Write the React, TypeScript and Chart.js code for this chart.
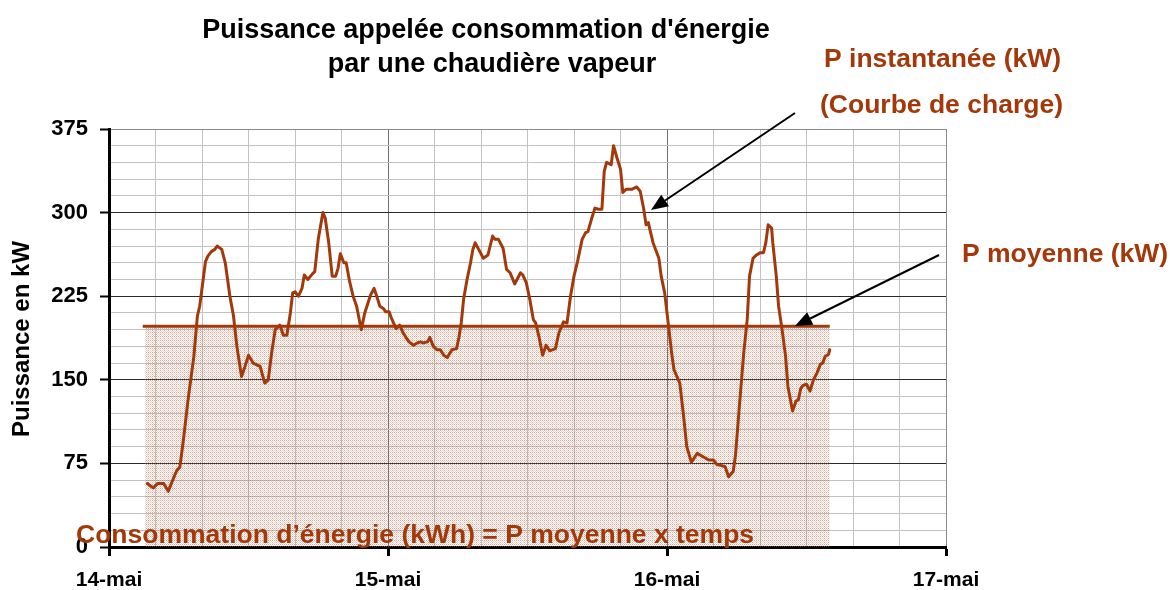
import React, { useEffect, useRef } from 'react';
import { Chart, registerables } from 'chart.js';

Chart.register(...registerables);

// ---- Data ----
const DATE_LABELS = ['14-mai', '15-mai', '16-mai', '17-mai'];
const TITLE_LINES = ["Puissance appelée consommation d'énergie", 'par une chaudière vapeur'];
const Y_TITLE = 'Puissance en kW';
const ANNOT_INST = ['P instantanée (kW)', '(Courbe de charge)'];
const ANNOT_MOY = 'P moyenne (kW)';
const CONSO_TEXT = 'Consommation d’énergie (kWh) = P moyenne x temps';

// time in hours from 14-mai 00:00
const HOURS = [
  3.3, 3.8, 4.2, 4.7, 5.1, 5.4, 5.8, 6.1, 6.4, 6.8,
  7.3, 7.6, 7.8, 8.1, 8.3, 8.5, 8.8, 9.1, 9.3, 9.7,
  10.0, 10.4, 10.7, 11.0, 11.4, 11.7, 12.0, 12.4, 13.0, 13.4,
  13.7, 14.0, 14.3, 14.7, 15.0, 15.3, 15.6, 15.8, 16.0, 16.3,
  16.6, 16.8, 17.1, 17.5, 17.7, 18.0, 18.4, 18.6, 18.9, 19.2,
  19.5, 19.7, 19.9, 20.2, 20.4, 20.7, 21.0, 21.3, 21.7, 22.0,
  22.5, 22.8, 23.0, 23.3, 23.6, 23.8, 24.1, 24.3, 24.7, 25.0,
  25.3, 25.8, 26.2, 26.5, 26.8, 27.0, 27.4, 27.6, 27.9, 28.2,
  28.5, 28.8, 29.1, 29.5, 29.9, 30.1, 30.3, 30.5, 30.8, 31.1,
  31.3, 31.5, 31.8, 32.2, 32.6, 33.0, 33.2, 33.5, 33.9, 34.2,
  34.5, 34.9, 35.1, 35.4, 35.6, 35.9, 36.2, 36.5, 36.7, 37.0,
  37.3, 37.6, 37.9, 38.4, 38.7, 39.1, 39.4, 39.7, 40.0, 40.3,
  40.7, 41.0, 41.2, 41.5, 41.8, 42.1, 42.4, 42.6, 42.8, 43.2,
  43.4, 43.7, 44.0, 44.2, 44.5, 45.0, 45.4, 45.7, 46.0, 46.2,
  46.4, 46.5, 46.8, 47.3, 47.5, 47.8, 48.1, 48.4, 48.6, 49.1,
  49.4, 49.7, 50.1, 50.6, 51.1, 51.6, 52.0, 52.3, 52.7, 53.0,
  53.3, 53.7, 53.9, 54.2, 54.6, 54.9, 55.1, 55.4, 55.7, 56.0,
  56.3, 56.5, 56.7, 57.0, 57.1, 57.4, 57.6, 57.9, 58.2, 58.4,
  58.8, 59.1, 59.3, 59.5, 59.7, 60.0, 60.3, 60.6, 60.9, 61.2,
  61.4, 61.6, 61.9, 62.0,
];

const POWER_KW = [
  57, 53, 57, 57, 50, 58, 68, 72, 96, 132,
  171, 207, 216, 240, 256, 261, 265, 267, 270, 267,
  255, 225, 208, 180, 153, 162, 172, 165, 162, 147,
  150, 175, 195, 199, 190, 190, 210, 228, 229, 225,
  232, 244, 240, 245, 247, 276, 300, 295, 273, 243,
  243, 250, 263, 255, 255, 238, 225, 216, 195, 210,
  226, 232, 226, 216, 214, 211, 211, 205, 196, 199,
  192, 184, 181, 183, 184, 183, 184, 188, 180, 177,
  177, 172, 170, 177, 178, 188, 201, 222, 240, 255,
  267, 273, 267, 259, 262, 279, 276, 276, 268, 249,
  246, 236, 240, 246, 244, 237, 222, 204, 201, 188,
  172, 181, 176, 178, 192, 202, 201, 225, 243, 256,
  276, 282, 283, 294, 304, 303, 303, 337, 345, 343,
  360, 349, 339, 318, 321, 321, 323, 319, 303, 289,
  291, 286, 273, 259, 243, 228, 201, 174, 159, 147,
  120, 90, 76, 84, 81, 78, 78, 74, 73, 72,
  63, 68, 83, 123, 174, 204, 243, 259, 262, 264,
  264, 273, 289, 286, 273, 243, 216, 195, 171, 144,
  122, 131, 132, 142, 145, 146, 140, 150, 156, 164,
  165, 171, 173, 177,
];

const P_MOYENNE = 198;
const MEAN_RANGE_H = [2.9, 62.0];
const FILL_RANGE_H = [3.1, 62.0];
const X_MAX_H = 72;
const Y_MAX = 375;

const FONT = '"Liberation Sans", Arial, Helvetica, sans-serif';
const BROWN = '#A3390B';

function makePattern(): CanvasPattern | string {
  const pc = document.createElement('canvas');
  pc.width = 4;
  pc.height = 4;
  const g = pc.getContext('2d');
  if (!g) return 'rgba(220,140,110,0.3)';
  for (let yy = 0; yy < 4; yy++) {
    for (let xx = 0; xx < 4; xx++) {
      if ((xx + yy) % 2 === 0) {
        g.fillStyle = (xx % 4 === 0 || yy % 4 === 0) ? 'rgba(200,95,60,0.55)' : 'rgba(215,130,100,0.35)';
        g.fillRect(xx, yy, 1, 1);
      }
    }
  }
  const p = g.createPattern(pc, 'repeat');
  return p || 'rgba(220,140,110,0.3)';
}

function drawArrow(ctx: CanvasRenderingContext2D, x1: number, y1: number, x2: number, y2: number) {
  const dx = x2 - x1;
  const dy = y2 - y1;
  const len = Math.sqrt(dx * dx + dy * dy);
  const ux = dx / len;
  const uy = dy / len;
  const headLen = 17;
  const headHalf = 7;
  const bx = x2 - ux * headLen;
  const by = y2 - uy * headLen;
  ctx.strokeStyle = '#000';
  ctx.lineWidth = 2;
  ctx.beginPath();
  ctx.moveTo(x1, y1);
  ctx.lineTo(bx, by);
  ctx.stroke();
  ctx.fillStyle = '#000';
  ctx.beginPath();
  ctx.moveTo(x2, y2);
  ctx.lineTo(bx - uy * headHalf, by + ux * headHalf);
  ctx.lineTo(bx + uy * headHalf, by - ux * headHalf);
  ctx.closePath();
  ctx.fill();
}

const overlayPlugin = {
  id: 'overlay',
  afterDraw(chart: any) {
    const ctx: CanvasRenderingContext2D = chart.ctx;
    ctx.save();
    // Title
    ctx.fillStyle = '#000';
    ctx.font = `bold 27px ${FONT}`;
    ctx.textAlign = 'center';
    ctx.textBaseline = 'alphabetic';
    ctx.fillText(TITLE_LINES[0], 486, 38);
    ctx.fillText(TITLE_LINES[1], 492, 72);

    // Y title
    ctx.save();
    ctx.translate(22, 339);
    ctx.rotate(-Math.PI / 2);
    ctx.font = `bold 24px ${FONT}`;
    ctx.textAlign = 'center';
    ctx.textBaseline = 'middle';
    ctx.fillText(Y_TITLE, 0, 0);
    ctx.restore();

    // Annotations
    ctx.fillStyle = BROWN;
    ctx.font = `bold 26.5px ${FONT}`;
    ctx.textAlign = 'left';
    ctx.textBaseline = 'alphabetic';
    ctx.fillText(ANNOT_INST[0], 824, 67);
    ctx.fillText(ANNOT_INST[1], 820, 113);
    ctx.fillText(ANNOT_MOY, 962, 262);
    ctx.fillText(CONSO_TEXT, 76, 543);

    drawArrow(ctx, 795, 113, 651, 210);
    drawArrow(ctx, 939, 255, 795, 326);
    ctx.restore();
  },
};

export default function App() {
  const canvasRef = useRef<HTMLCanvasElement | null>(null);

  useEffect(() => {
    const canvas = canvasRef.current;
    if (!canvas) return;
    const pattern = makePattern();

    const curve = HOURS.map((h, i) => ({ x: h, y: POWER_KW[i] }));
    const meanLine = MEAN_RANGE_H.map((h) => ({ x: h, y: P_MOYENNE }));
    const fillArea = FILL_RANGE_H.map((h) => ({ x: h, y: P_MOYENNE }));

    const chart = new Chart(canvas, {
      type: 'line',
      data: {
        datasets: [
          {
            label: 'P moyenne',
            data: meanLine,
            borderColor: BROWN,
            borderWidth: 3,
            pointRadius: 0,
            fill: false,
          },
          {
            label: 'P instantanée',
            data: curve,
            borderColor: BROWN,
            borderWidth: 3,
            pointRadius: 0,
            tension: 0,
            fill: false,
            borderJoinStyle: 'round',
            borderCapStyle: 'round',
          },
          {
            label: 'Consommation',
            data: fillArea,
            borderWidth: 0,
            borderColor: 'rgba(0,0,0,0)',
            backgroundColor: pattern as any,
            pointRadius: 0,
            fill: 'origin',
          },
        ],
      },
      options: {
        responsive: false,
        devicePixelRatio: 1,
        animation: false,
        events: [],
        layout: { padding: { left: 0, right: 224, top: 129, bottom: 0 } },
        plugins: {
          legend: { display: false },
          tooltip: { enabled: false },
          title: { display: false },
        },
        scales: {
          x: {
            type: 'linear',
            min: 0,
            max: X_MAX_H,
            afterFit: (s: any) => {
              s.height = 43;
            },
            border: { display: true, color: '#000', width: 3 },
            grid: {
              drawOnChartArea: true,
              drawTicks: true,
              tickLength: 9,
              tickWidth: 3,
              lineWidth: 1,
              color: (c: any) => {
                const v = c.tick ? c.tick.value : 0;
                if (v === 0) return 'rgba(0,0,0,0)';
                if (v === X_MAX_H) return '#8a8a8a';
                if (v % 24 === 0) return '#6e6e6e';
                return '#c2c2c2';
              },
              tickColor: (c: any) => {
                const v = c.tick ? c.tick.value : 0;
                return v % 24 === 0 ? '#000' : 'rgba(0,0,0,0)';
              },
            },
            ticks: {
              stepSize: 4,
              autoSkip: false,
              maxRotation: 0,
              minRotation: 0,
              padding: 12,
              color: '#000',
              font: { family: FONT, size: 21, weight: 'bold' },
              callback: (v: any) => {
                const n = Number(v);
                return n % 24 === 0 ? DATE_LABELS[n / 24] : '';
              },
            },
          },
          y: {
            type: 'linear',
            min: 0,
            max: Y_MAX,
            afterFit: (s: any) => {
              s.width = 109;
            },
            border: { display: true, color: '#000', width: 3 },
            grid: {
              drawOnChartArea: true,
              drawTicks: true,
              tickLength: 9,
              tickWidth: 2,
              lineWidth: 1,
              color: (c: any) => {
                const v = c.tick ? c.tick.value : 0;
                if (v === 0) return 'rgba(0,0,0,0)';
                if (v === Y_MAX) return '#8a8a8a';
                if (v % 75 === 0) return '#2a2a2a';
                return '#c2c2c2';
              },
              tickColor: (c: any) => {
                const v = c.tick ? c.tick.value : 0;
                return v % 75 === 0 ? '#000' : 'rgba(0,0,0,0)';
              },
            },
            ticks: {
              stepSize: 15,
              autoSkip: false,
              padding: 12,
              color: '#000',
              font: { family: FONT, size: 22, weight: 'bold' },
              callback: (v: any) => {
                const n = Number(v);
                return n % 75 === 0 ? String(n) : '';
              },
            },
          },
        },
      } as any,
      plugins: [overlayPlugin],
    });

    return () => {
      chart.destroy();
    };
  }, []);

  return (
    <div style={{ position: 'fixed', left: 0, top: 0, width: 1170, height: 590, background: '#fff' }}>
      <canvas ref={canvasRef} width={1170} height={590} style={{ display: 'block' }} />
    </div>
  );
}
